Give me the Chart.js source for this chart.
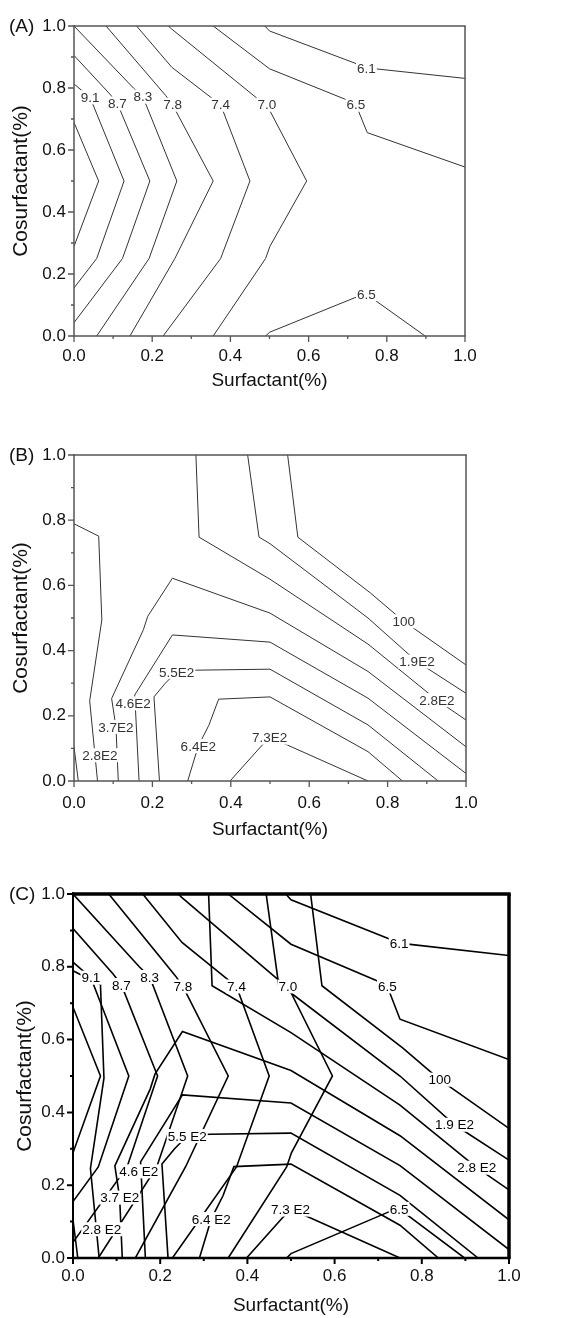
<!DOCTYPE html>
<html>
<head>
<meta charset="utf-8">
<script src="https://cdn.jsdelivr.net/npm/chart.js@4.4.1/dist/chart.umd.min.js"></script>
<style>
  html, body { margin: 0; padding: 0; background: #fff; }
  body { width: 585px; height: 1318px; position: relative; overflow: hidden; }
  canvas { position: absolute; left: 0; }
</style>
</head>
<body>
<canvas id="chartA" width="585" height="400" style="top:0px"></canvas>
<canvas id="chartB" width="585" height="430" style="top:430px"></canvas>
<canvas id="chartC" width="585" height="448" style="top:870px"></canvas>
<script>
// axis ticks
const majorTicks = [0, 0.2, 0.4, 0.6, 0.8, 1.0];
const minorTicks = [0.1, 0.3, 0.5, 0.7, 0.9];

// (A) contour lines, points are [surfactant, cosurfactant]
const a95 = [[0, 0.689], [0.063, 0.5], [0, 0.289]];
const a91 = [[0, 0.813], [0.041, 0.77], [0.128, 0.5], [0.058, 0.25], [0, 0.155]];
const a87 = [[0, 0.905], [0.092, 0.78], [0.111, 0.75], [0.194, 0.5], [0.124, 0.25], [0, 0.043]];
const a83 = [[0, 1], [0.152, 0.8], [0.176, 0.772], [0.263, 0.5], [0.192, 0.25], [0.058, 0]];
const a78 = [[0.082, 1], [0.235, 0.775], [0.252, 0.746], [0.356, 0.5], [0.258, 0.25], [0.143, 0]];
const a74 = [[0.16, 1], [0.25, 0.867], [0.356, 0.764], [0.375, 0.746], [0.45, 0.5], [0.375, 0.25], [0.228, 0]];
const a70 = [[0.241, 1], [0.25, 0.99], [0.467, 0.768], [0.493, 0.746], [0.595, 0.5], [0.501, 0.289], [0.49, 0.25], [0.356, 0]];
const a65 = [[0.356, 1], [0.5, 0.862], [0.693, 0.764], [0.721, 0.746], [0.75, 0.656], [1, 0.545]];
const a61 = [[0.488, 1], [0.5, 0.984], [0.723, 0.878], [0.748, 0.865], [1, 0.831]];
const a65b = [[0.49, 0], [0.5, 0.012], [0.723, 0.126], [0.748, 0.135], [0.898, 0]];
const labelsA = [
  [0.041, 0.77, '9.1'], [0.111, 0.75, '8.7'], [0.176, 0.772, '8.3'], [0.252, 0.746, '7.8'],
  [0.375, 0.746, '7.4'], [0.493, 0.746, '7.0'], [0.721, 0.746, '6.5'], [0.748, 0.865, '6.1'],
  [0.748, 0.135, '6.5']
];

// (B) contour lines
const b100 = [[0.545, 1], [0.571, 0.748], [0.756, 0.577], [0.841, 0.49], [1, 0.356]];
const b190 = [[0.443, 1], [0.472, 0.748], [0.5, 0.728], [0.75, 0.5], [0.875, 0.366], [1, 0.269]];
const b280 = [[0.311, 1], [0.319, 0.748], [0.5, 0.619], [0.75, 0.42], [0.926, 0.248], [1, 0.187]];
const b370 = [[0.113, 0], [0.107, 0.166], [0.096, 0.253], [0.177, 0.464], [0.188, 0.505], [0.251, 0.622], [0.5, 0.515], [0.75, 0.336], [1, 0.105]];
const b460 = [[0.166, 0], [0.155, 0.264], [0.251, 0.448], [0.5, 0.426], [0.75, 0.254], [1, 0.023]];
const b550 = [[0.218, 0], [0.204, 0.258], [0.233, 0.3], [0.262, 0.335], [0.313, 0.34], [0.5, 0.343], [0.75, 0.172], [0.929, 0]];
const b640 = [[0.29, 0], [0.317, 0.107], [0.344, 0.171], [0.369, 0.251], [0.5, 0.258], [0.75, 0.09], [0.838, 0]];
const b730 = [[0.398, 0], [0.48, 0.11], [0.5, 0.133], [0.545, 0.11], [0.75, 0]];
const b280b = [[0, 0.789], [0.063, 0.751], [0.071, 0.494], [0.04, 0.246], [0.06, 0]];
const b190b = [[0, 0.105], [0.011, 0]];
const labelsB = [
  [0.841, 0.49, '100'], [0.875, 0.366, '1.9E2'], [0.926, 0.248, '2.8E2'], [0.262, 0.335, '5.5E2'],
  [0.151, 0.238, '4.6E2'], [0.107, 0.166, '3.7E2'], [0.066, 0.079, '2.8E2'], [0.317, 0.107, '6.4E2'],
  [0.499, 0.133, '7.3E2']
];

const linesA = [a95, a91, a87, a83, a78, a74, a70, a65, a61, a65b];
const linesB = [b100, b190, b280, b370, b460, b550, b640, b730, b280b, b190b];

Chart.defaults.font.family = '"Liberation Sans", Arial, sans-serif';

function makePanel(id, cfg) {
  const f = cfg.frame;
  const decor = {
    id: 'decor',
    afterDatasetsDraw(chart) {
      const { ctx, chartArea: a, scales: { x, y } } = chart;
      ctx.save();
      ctx.beginPath();
      ctx.rect(a.left, a.top, a.right - a.left, a.bottom - a.top);
      ctx.clip();
      ctx.font = cfg.labelFont;
      ctx.textAlign = 'center';
      ctx.textBaseline = 'middle';
      cfg.labels.forEach(([vx, vy, t]) => {
        const px = x.getPixelForValue(vx);
        const py = y.getPixelForValue(vy);
        const w = ctx.measureText(t).width;
        ctx.fillStyle = '#fff';
        ctx.fillRect(px - w / 2 - 1, py - 7, w + 2, 14);
        ctx.fillStyle = cfg.color;
        ctx.fillText(t, px, py + 1);
      });
      ctx.restore();
    },
    afterDraw(chart) {
      const { ctx, chartArea: a, scales: { x, y } } = chart;
      ctx.save();
      ctx.strokeStyle = f.color;
      ctx.lineWidth = f.tick;
      ctx.beginPath();
      majorTicks.forEach(v => {
        const px = x.getPixelForValue(v), py = y.getPixelForValue(v);
        ctx.moveTo(px, a.bottom); ctx.lineTo(px, a.bottom + 6);
        ctx.moveTo(a.left, py); ctx.lineTo(a.left - 6, py);
      });
      minorTicks.forEach(v => {
        const px = x.getPixelForValue(v), py = y.getPixelForValue(v);
        ctx.moveTo(px, a.bottom); ctx.lineTo(px, a.bottom + 3);
        ctx.moveTo(a.left, py); ctx.lineTo(a.left - 3, py);
      });
      ctx.stroke();
      const side = (w, x1, y1, x2, y2) => {
        ctx.lineWidth = w;
        ctx.beginPath(); ctx.moveTo(x1, y1); ctx.lineTo(x2, y2); ctx.stroke();
      };
      side(f.left, a.left, a.top - f.top / 2, a.left, a.bottom + f.bottom / 2);
      side(f.bottom, a.left, a.bottom, a.right + f.right / 2, a.bottom);
      side(f.top, a.left - f.left / 2, a.top, a.right + f.right / 2, a.top);
      side(f.right, a.right, a.top, a.right, a.bottom);
      ctx.fillStyle = '#111';
      ctx.font = '19px "Liberation Sans", Arial, sans-serif';
      ctx.textAlign = 'left';
      ctx.textBaseline = 'middle';
      ctx.fillText(cfg.letter, 9, a.top + 1);
      ctx.restore();
    }
  };

  return new Chart(document.getElementById(id), {
    type: 'scatter',
    data: {
      datasets: cfg.lines.map(pts => ({
        data: pts.map(([x, y]) => ({ x, y })),
        showLine: true,
        borderColor: cfg.color,
        borderWidth: cfg.lineWidth,
        pointRadius: 0,
        tension: 0,
        fill: false
      }))
    },
    options: {
      responsive: false,
      animation: false,
      devicePixelRatio: 1,
      layout: { padding: { top: cfg.top, right: cfg.right, bottom: 0, left: 0 } },
      plugins: { legend: { display: false }, tooltip: { enabled: false } },
      scales: {
        x: {
          type: 'linear', min: 0, max: 1,
          afterBuildTicks: s => { s.ticks = majorTicks.map(v => ({ value: v })); },
          afterFit: s => { s.height = cfg.xh; },
          grid: { display: false, drawTicks: false },
          border: { display: false },
          ticks: { padding: cfg.xpad, color: '#111', font: { size: 17 }, maxRotation: 0, autoSkip: false, callback: v => v.toFixed(1) },
          title: { display: true, text: 'Surfactant(%)', color: '#111', font: { size: 19 }, padding: { top: 0, bottom: cfg.titlePad } }
        },
        y: {
          type: 'linear', min: 0, max: 1,
          afterBuildTicks: s => { s.ticks = majorTicks.map(v => ({ value: v })); },
          afterFit: s => { s.width = cfg.yw; },
          grid: { display: false, drawTicks: false },
          border: { display: false },
          ticks: { padding: 8, color: '#111', font: { size: 17 }, autoSkip: false, callback: v => v.toFixed(1) },
          title: { display: true, text: 'Cosurfactant(%)', color: '#111', font: { size: 21 }, padding: { top: cfg.ytitlePad, bottom: 0 } }
        }
      }
    },
    plugins: [decor]
  });
}

makePanel('chartA', {
  letter: '(A)', lines: linesA, labels: labelsA, color: '#333', lineWidth: 1,
  labelFont: '13.5px "Liberation Sans", Arial, sans-serif',
  top: 26, right: 120, xh: 64, yw: 74, xpad: 10, titlePad: 8, ytitlePad: 9,
  frame: { color: '#555', tick: 1.3, left: 1.5, bottom: 1.5, top: 1.5, right: 1.5 }
});

makePanel('chartB', {
  letter: '(B)', lines: linesB, labels: labelsB, color: '#333', lineWidth: 1,
  labelFont: '13.5px "Liberation Sans", Arial, sans-serif',
  top: 25, right: 119, xh: 79, yw: 74, xpad: 12, titlePad: 19, ytitlePad: 9,
  frame: { color: '#555', tick: 1.3, left: 1.5, bottom: 1.5, top: 1.5, right: 1.5 }
});

makePanel('chartC', {
  letter: '(C)', lines: linesA.concat(linesB),
  labels: labelsA.concat(labelsB.map(([x, y, t]) => [x, y, t.replace('E2', ' E2')])),
  color: '#000', lineWidth: 1.6,
  labelFont: '13.5px "Liberation Sans", Arial, sans-serif',
  top: 24, right: 76, xh: 60, yw: 73, xpad: 8, titlePad: 1, ytitlePad: 13,
  frame: { color: '#000', tick: 2, left: 2, bottom: 2.5, top: 3.5, right: 3.5 }
});
</script>
</body>
</html>
